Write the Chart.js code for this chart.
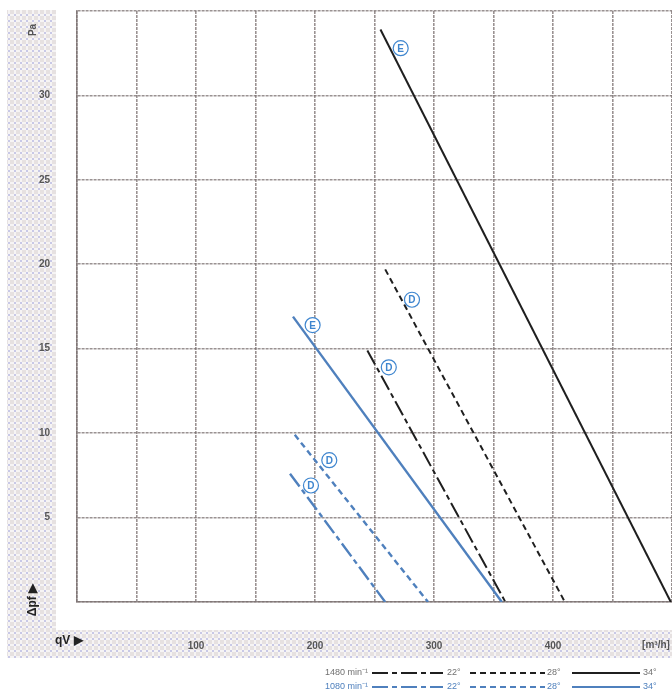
<!DOCTYPE html>
<html>
<head>
<meta charset="utf-8">
<script src="https://cdn.jsdelivr.net/npm/chart.js@4"></script>
<style>
    html, body { margin: 0; background: #fff; }
    #wrap { width: 672px; height: 694px; position: relative; }
</style>
</head>
<body>
<div id="wrap"><canvas id="chart"></canvas></div>
<script>
    const xTicks = [100, 200, 300, 400];
    const yTicks = [5, 10, 15, 20, 25, 30];
    const speeds = ["1480 min⁻¹", "1080 min⁻¹"];
    const angles = ["22°", "28°", "34°"];

    // flow [m³/h] and pressure [Pa] at the ends of each curve
    const flow1480_22 = [244, 360];
    const press1480_22 = [14.9, 0];
    const flow1480_28 = [259, 410];
    const press1480_28 = [19.7, 0];
    const flow1480_34 = [255, 499];
    const press1480_34 = [33.9, 0];
    const flow1080_22 = [179, 259];
    const press1080_22 = [7.6, 0];
    const flow1080_28 = [183, 295];
    const press1080_28 = [9.9, 0];
    const flow1080_34 = [181.5, 357];
    const press1080_34 = [16.9, 0];

    const markerText = ["E", "E", "D", "D", "D", "D"];
    const markerFlow = [272, 198, 281.5, 262, 212, 196.6];
    const markerPress = [32.8, 16.4, 17.9, 13.9, 8.4, 6.9];

    const black = "#1f1f1f";
    const blue = "#4f80bd";
    const gridColor = "rgba(120, 110, 110, 0.75)";
    const dashes = [[16, 4, 5, 4], [6, 4], []];

    const curves = [
        [flow1480_22, press1480_22], [flow1480_28, press1480_28], [flow1480_34, press1480_34],
        [flow1080_22, press1080_22], [flow1080_28, press1080_28], [flow1080_34, press1080_34]
    ];

    const datasets = curves.map(([flow, press], i) => {
        const row = Math.floor(i / 3);
        return {
            label: `${speeds[row]} ${angles[i % 3]}`,
            data: flow.map((x, k) => ({ x, y: press[k] })),
            showLine: true,
            pointRadius: 0,
            borderColor: row === 0 ? black : blue,
            borderWidth: row === 0 ? 2 : 2.4,
            borderDash: dashes[i % 3]
        };
    });

    function stripPattern(ctx) {
        const tile = document.createElement("canvas");
        tile.width = 6;
        tile.height = 6;
        const t = tile.getContext("2d");
        t.fillStyle = "#e6e1e1";
        t.fillRect(0, 0, 6, 6);
        t.fillStyle = "#f6f4f4";
        t.fillRect(0, 2, 6, 2);
        t.fillRect(2, 0, 2, 6);
        t.fillStyle = "#c8c8e6";
        t.fillRect(2, 2, 2, 2);
        return ctx.createPattern(tile, "repeat");
    }

    const decorations = {
        id: "decorations",
        beforeDraw(chart) {
            const ctx = chart.ctx;
            ctx.save();
            ctx.fillStyle = stripPattern(ctx);
            ctx.fillRect(7, 10, 49, 648);
            ctx.fillRect(7, 630, 665, 28);
            ctx.restore();
        },
        afterDatasetsDraw(chart) {
            const ctx = chart.ctx;
            const xs = chart.scales.x;
            const ys = chart.scales.y;
            ctx.save();
            markerText.forEach((letter, i) => {
                const px = xs.getPixelForValue(markerFlow[i]);
                const py = ys.getPixelForValue(markerPress[i]);
                ctx.fillStyle = "#fff";
                ctx.strokeStyle = "#3f86cf";
                ctx.lineWidth = 1.2;
                ctx.beginPath();
                ctx.arc(px, py, 7.5, 0, Math.PI * 2);
                ctx.fill();
                ctx.stroke();
                ctx.fillStyle = "#3f86cf";
                ctx.font = "bold 10px 'Liberation Sans'";
                ctx.textAlign = "center";
                ctx.textBaseline = "middle";
                ctx.fillText(letter, px, py + 1);
            });
            ctx.restore();
        },
        afterDraw(chart) {
            const ctx = chart.ctx;
            ctx.save();
            ctx.fillStyle = "#555";
            ctx.font = "bold 10px 'Liberation Sans'";
            ctx.textAlign = "center";
            ctx.textBaseline = "middle";
            ctx.fillText("[m³/h]", 656, 645);

            ctx.save();
            ctx.translate(33, 30);
            ctx.rotate(-Math.PI / 2);
            ctx.fillText("Pa", 0, 0);
            ctx.restore();

            ctx.fillStyle = "#222";
            ctx.font = "bold 12px 'Liberation Sans'";
            ctx.save();
            ctx.translate(33, 600);
            ctx.rotate(-Math.PI / 2);
            ctx.fillText("Δpf ▶", 0, 0);
            ctx.restore();
            ctx.textAlign = "left";
            ctx.fillText("qV ▶", 55, 641);

            // legend
            const rowY = [673, 687];
            const samples = [[372, 443, 447], [470, 545, 547], [572, 640, 643]];
            ctx.font = "9px 'Liberation Sans'";
            speeds.forEach((speed, r) => {
                const lineColor = r === 0 ? black : blue;
                const textColor = r === 0 ? "#707070" : blue;
                ctx.fillStyle = textColor;
                ctx.textAlign = "right";
                ctx.fillText(speed, 368, rowY[r]);
                samples.forEach(([x0, x1, tx], a) => {
                    ctx.strokeStyle = lineColor;
                    ctx.lineWidth = 2;
                    ctx.setLineDash(dashes[a]);
                    ctx.beginPath();
                    ctx.moveTo(x0, rowY[r]);
                    ctx.lineTo(x1, rowY[r]);
                    ctx.stroke();
                    ctx.setLineDash([]);
                    ctx.fillStyle = textColor;
                    ctx.textAlign = "left";
                    ctx.fillText(angles[a], tx, rowY[r]);
                });
            });
            ctx.restore();
        }
    };

    new Chart(document.getElementById("chart"), {
        type: "scatter",
        data: { datasets },
        options: {
            responsive: true,
            maintainAspectRatio: false,
            animation: false,
            layout: { padding: { top: 11, right: 0, bottom: 0, left: 0 } },
            plugins: {
                legend: { display: false },
                tooltip: { enabled: false }
            },
            scales: {
                x: {
                    type: "linear",
                    min: 0,
                    max: 500,
                    afterFit: scale => {
                        scale.height = 92;
                        scale.paddingLeft = 0;
                        scale.paddingRight = 0;
                    },
                    ticks: {
                        stepSize: 50,
                        autoSkip: false,
                        maxRotation: 0,
                        padding: 38,
                        color: "#555",
                        font: { family: "Liberation Sans", size: 10, weight: "bold" },
                        callback: value => xTicks.includes(value) ? String(value) : ""
                    },
                    grid: { color: gridColor, lineWidth: 1.6, drawTicks: false },
                    border: { color: gridColor, width: 1.6, dash: [3, 1] }
                },
                y: {
                    type: "linear",
                    min: 0,
                    max: 35,
                    afterFit: scale => {
                        scale.width = 77;
                        scale.paddingTop = 0;
                        scale.paddingBottom = 0;
                    },
                    ticks: {
                        stepSize: 5,
                        padding: 27,
                        color: "#555",
                        font: { family: "Liberation Sans", size: 10, weight: "bold" },
                        callback: value => yTicks.includes(value) ? String(value) : ""
                    },
                    grid: { color: gridColor, lineWidth: 1.6, drawTicks: false },
                    border: { color: gridColor, width: 1.6, dash: [3, 1] }
                }
            }
        },
        plugins: [decorations]
    });
</script>
</body>
</html>
